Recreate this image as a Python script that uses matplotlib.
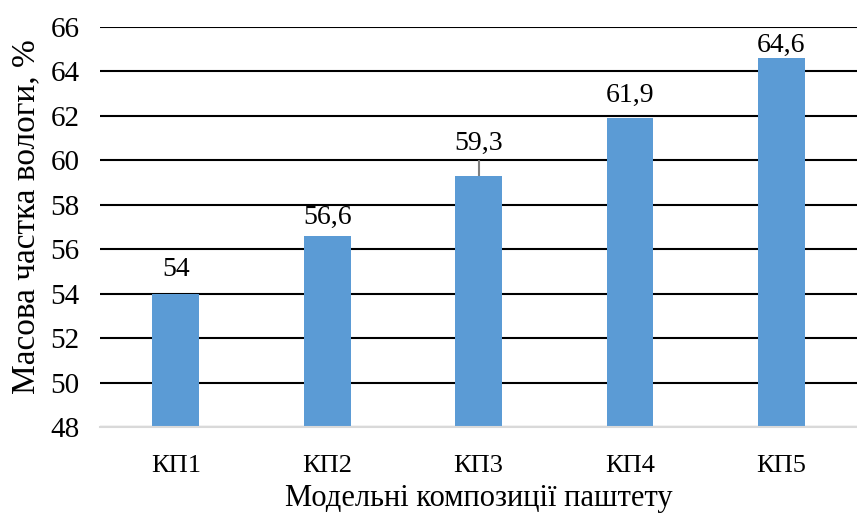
import matplotlib
matplotlib.use("Agg")
import matplotlib.pyplot as plt

categories = ["КП1", "КП2", "КП3", "КП4", "КП5"]
values = [54.0, 56.6, 59.3, 61.9, 64.6]
errors = [0.0, 0.0, 0.7, 0.0, 0.0]
labels = ["54", "56,6", "59,3", "61,9", "64,6"]
yticks = [48, 50, 52, 54, 56, 58, 60, 62, 64, 66]

plt.rcParams["font.family"] = ["Liberation Serif", "DejaVu Serif"]

fig = plt.figure(figsize=(8.57, 5.14), dpi=100)
ax = fig.add_axes([0.117, 0.169, 0.883, 0.7785])

x = list(range(len(categories)))
ax.bar(x, values, width=0.31, color="#5B9BD5", zorder=3)
ax.errorbar(x, values, yerr=[[0] * len(errors), errors], fmt="none",
            ecolor="#7F7F7F", elinewidth=1.5, capsize=0, zorder=4)

# label gaps above bars, nudged the way Excel placed them
label_gap = [0.55, 0.25, 0.9, 0.46, 0.0]
for xi, v, lab, gap in zip(x, values, labels, label_gap):
    ax.text(xi, v + gap, lab, ha="center", va="bottom", fontsize=20)

ax.set_ylim(48, 66)
ax.set_xlim(-0.5, len(categories) - 0.5)
ax.set_yticks(yticks)
ax.set_yticklabels([str(t) for t in yticks])
ax.set_xticks(x)
ax.set_xticklabels(categories, fontsize=19)
ax.tick_params(axis="both", length=0)
ax.tick_params(axis="y", pad=15, labelsize=21)
ax.tick_params(axis="x", pad=20)

ax.grid(axis="y", color="black", linewidth=1.5, zorder=0)
for s in ["left", "right", "top"]:
    ax.spines[s].set_visible(False)
ax.spines["bottom"].set_color("#D9D9D9")
ax.spines["bottom"].set_linewidth(1.5)
ax.spines["bottom"].set_zorder(5)

ax.set_ylabel("Масова частка вологи, %", fontsize=24)
ax.yaxis.set_label_coords(-0.078, 0.525)
ax.set_xlabel("Модельні композиції паштету", fontsize=22, labelpad=5)

fig.savefig("out.png", dpi=100)
